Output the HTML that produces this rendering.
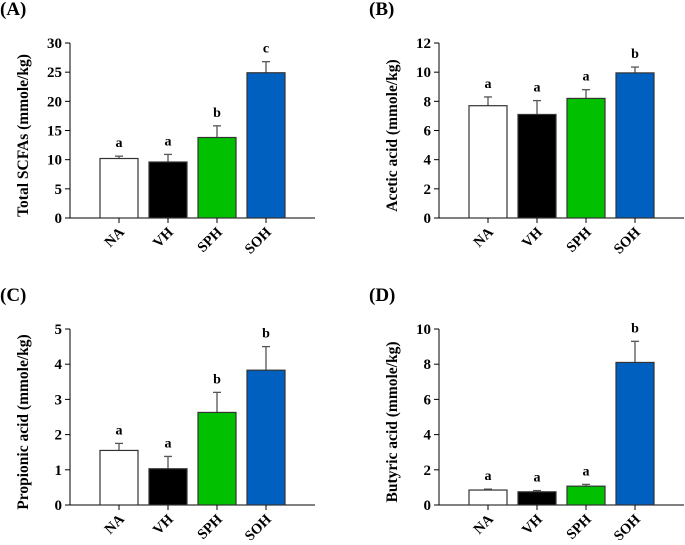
<!DOCTYPE html>
<html><head><meta charset="utf-8"><style>
body{margin:0;background:#fff}
svg text{font-family:"Liberation Serif","Times New Roman",serif;font-weight:bold;fill:#000}
</style></head><body>
<svg id="fig" width="685" height="540" xmlns="http://www.w3.org/2000/svg"></svg>
<script>
const categories=["NA","VH","SPH","SOH"];
const colors=["#ffffff","#000000","#00c000","#0060c0"];
const valsA=[10.2,9.6,13.8,24.9], errA=[0.4,1.3,2.0,1.9], letA=["a","a","b","c"];
const valsB=[7.7,7.1,8.2,9.95], errB=[0.6,0.95,0.6,0.4], letB=["a","a","a","b"];
const valsC=[1.55,1.03,2.63,3.83], errC=[0.2,0.35,0.57,0.67], letC=["a","a","b","b"];
const valsD=[0.85,0.75,1.07,8.1], errD=[0.05,0.07,0.1,1.2], letD=["a","a","a","b"];
const ticksA=[0,5,10,15,20,25,30], ticksB=[0,2,4,6,8,10,12], ticksC=[0,1,2,3,4,5], ticksD=[0,2,4,6,8,10];
const NS="http://www.w3.org/2000/svg";
const svg=document.getElementById("fig");
function mk(tag,at,parent,txt){const e=document.createElementNS(NS,tag);for(const k in at)e.setAttribute(k,at[k]);if(txt!==undefined)e.textContent=txt;(parent||svg).appendChild(e);return e;}
function panel(id,label,ox,top,bot,title,vals,errs,lets,ticks){
  const g=mk("g",{});
  
  
  const max=ticks[ticks.length-1];
  const y=v=>bot-(v/max)*(bot-top);
  const x=i=>ox+30+i*49;
  const pl=mk("text",{x:ox-70,y:top-28,"font-size":"19"},g,label);
  
  
  const yt=mk("text",{transform:`translate(${ox-42},${(top+bot)/2+5}) rotate(-90)`,"text-anchor":"middle","font-size":"15.5"},g,title);
  
  
  mk("line",{x1:ox,y1:top,x2:ox,y2:bot,stroke:"#000","stroke-width":1},g);
  mk("line",{x1:ox,y1:bot,x2:ox+245,y2:bot,stroke:"#000","stroke-width":1},g);
  ticks.forEach(t=>{
    mk("line",{x1:ox-5,y1:y(t),x2:ox,y2:y(t),stroke:"#000"},g);
    const tl=mk("text",{x:ox-8,y:y(t)+5,"text-anchor":"end","font-size":"15"},g,t);
    
    
  });
  vals.forEach((v,i)=>{
    const cx=x(i)+19;
    const et=y(v+errs[i]);
    mk("line",{x1:cx,y1:y(v),x2:cx,y2:et,stroke:"#555","stroke-width":1.3},g);
    mk("line",{x1:cx-4,y1:et,x2:cx+4,y2:et,stroke:"#555","stroke-width":1.3},g);
    const b=mk("rect",{x:x(i),y:y(v),width:38,height:bot-y(v),fill:colors[i],stroke:"#333","stroke-width":1.2},g);
    
    
    const lt=mk("text",{x:cx,y:et-9,"text-anchor":"middle","font-size":"14"},g,lets[i]);
    
    
    mk("line",{x1:cx,y1:bot,x2:cx,y2:bot+5,stroke:"#000"},g);
    const cl=mk("text",{transform:`translate(${cx+6},${bot+15}) rotate(-45)`,"text-anchor":"end","font-size":"14.5"},g,categories[i]);
    
    
  });
}
panel("a","(A)",70,43,218,"Total SCFAs (mmole/kg)",valsA,errA,letA,ticksA);
panel("b","(B)",439,43,218,"Acetic acid (mmole/kg)",valsB,errB,letB,ticksB);
panel("c","(C)",70,329,505,"Propionic acid (mmole/kg)",valsC,errC,letC,ticksC);
panel("d","(D)",439,329,505,"Butyric acid (mmole/kg)",valsD,errD,letD,ticksD);
</script>
</body></html>
